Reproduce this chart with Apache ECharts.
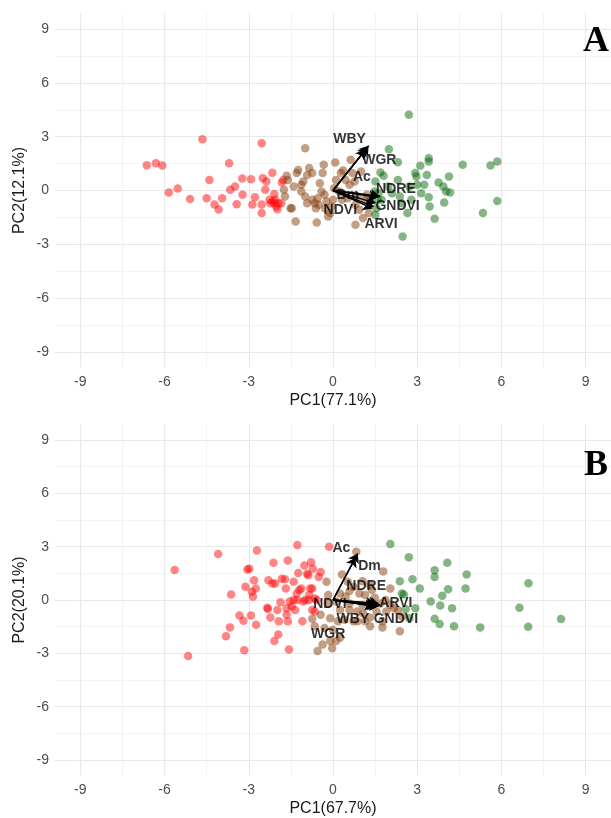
<!DOCTYPE html>
<html>
<head>
<meta charset="utf-8">
<script src="https://cdn.jsdelivr.net/npm/echarts@6/dist/echarts.min.js"></script>
<style>
  html, body { margin: 0; padding: 0; background: #fff; }
  #chart { width: 611px; height: 818px; }
</style>
</head>
<body>
<div id="chart"></div>
<script>
// tick labels and gridlines
var majorTicks = [-9, -6, -3, 0, 3, 6, 9];
var minorTicks = [-7.5, -4.5, -1.5, 1.5, 4.5, 7.5];

// panel A scores (PC1, PC2)
var redA = [[-6.63,1.41],[-6.31,1.52],[-6.08,1.39],[-5.85,-0.11],[-5.53,0.11],[-5.09,-0.48],[-4.65,2.86],[-4.5,-0.43],
  [-4.4,0.58],[-4.22,-0.78],[-4.07,-1.06],[-3.95,-0.43],[-3.7,1.52],[-3.66,0.04],[-3.49,0.22],[-3.43,-0.76],[-3.22,-0.24],
  [-3.23,0.67],[-2.92,0.63],[-2.87,-0.78],[-2.78,-0.37],[-2.54,2.64],[-2.54,-0.78],[-2.54,-1.26],[-2.5,0.69],[-2.41,0.04],
  [-2.37,0.5],[-2.26,-0.52],[-2.16,0.99],[-2.09,-0.19],[-2.06,-0.52],[-2.09,-0.71],[-2.02,-0.89],[-1.98,-1.04],[-1.95,-0.71],
  [-1.84,-0.71],[-1.82,0.45],[-1.77,0.59],[-2.15,-0.61],[-2.23,-0.71]];
var brownA = [[-0.99,2.36],[-1.65,0.82],[-1.61,0.59],[-1.75,0.04],[-1.71,-0.33],[-1.51,-0.99],[-1.33,-1.73],[-1.29,0.97],
  [-1.24,1.15],[-1.13,0.32],[-1.06,0.5],[-0.99,-0.33],[-0.92,0.87],[-0.85,1.25],[-0.74,0.97],[-0.58,-1.78],[-0.65,-0.71],
  [-0.61,-0.99],[-0.55,-0.43],[-0.47,0.41],[-0.41,-0.06],[-0.37,0.97],[-0.33,1.43],[-0.3,-0.24],[-0.23,-0.61],[-0.17,-1.45],
  [-0.1,-1.26],[-0.06,-0.89],[0,-0.52],[0.08,1.56],[0.04,0.13],[0.11,0.59],[0.22,-0.06],[0.28,0.97],[0.32,-0.52],[0.36,1.12],
  [0.45,0.59],[0.52,-0.43],[0.59,0.32],[0.63,1.71],[0.69,0.97],[0.77,0.5],[0.8,-0.8],[0.87,-0.33],[0.94,-1.08],[1.0,1.06],
  [1.07,-1.54],[0.8,-1.91],[1.14,-0.52],[1.21,-0.24],[1.28,-1.26],[-0.92,-0.71],[-0.74,-0.52],[-0.51,-0.8],[-0.28,-0.99],
  [-1.4,0.22],[-1.13,-0.06],[-1.47,-0.99]];
var greenA = [[2.7,4.22],[1.99,2.3],[2.31,1.58],[1.69,1.0],[1.8,0.82],[2.31,0.59],[1.51,0.5],[1.49,-0.06],[1.62,-0.15],
  [1.6,-0.52],[1.73,-0.52],[1.55,-0.99],[1.51,-1.36],[1.97,0.22],[2.1,-0.15],[2.38,-0.33],[2.45,-0.71],[2.65,-1.26],
  [2.48,-2.57],[2.72,0.22],[2.93,0.97],[2.97,0.78],[3.0,0.32],[3.11,1.38],[3.14,-0.15],[3.25,0.32],[3.34,0.87],[3.41,1.8],
  [3.41,1.62],[3.41,-0.37],[3.44,-0.89],[3.62,-1.58],[3.76,0.45],[3.93,0.22],[3.96,-0.67],[4.03,-0.06],[4.17,-0.11],
  [4.13,0.78],[4.62,1.43],[5.34,-1.26],[5.61,1.39],[5.85,1.62],[5.85,-0.58],[2.79,-0.52]];

// panel B scores (PC1, PC2)
var redB = [[-5.64,1.69],[-5.16,-3.15],[-4.09,2.59],[-3.81,-2.04],[-3.63,0.31],[-3.67,-1.54],[-3.33,-0.87],[-3.19,-1.17],
  [-3.16,-2.83],[-3.12,0.74],[-3.05,1.72],[-2.98,1.76],[-2.92,-0.87],[-2.89,0.46],[-2.85,0.19],[-2.81,1.11],[-2.75,0.65],
  [-2.71,2.78],[-2.74,-1.39],[-2.34,-0.43],[-2.32,-0.5],[-2.3,1.11],[-2.23,-0.98],[-2.16,0.93],[-2.12,2.09],[-2.09,-2.31],
  [-2.06,0.93],[-1.98,-0.56],[-1.95,-1.94],[-1.93,-1.2],[-1.87,-0.13],[-1.82,1.2],[-1.71,1.17],[-1.68,0.65],[-1.65,-0.46],
  [-1.61,2.22],[-1.61,-1.2],[-1.57,-2.78],[-1.65,-0.83],[-1.54,-0.09],[-1.47,-0.37],[-1.4,1.02],[-1.35,-0.56],[-1.29,0.37],
  [-1.24,1.52],[-1.2,0.56],[-1.13,0.65],[-1.09,-1.2],[-1.06,-0.09],[-1.02,1.94],[-0.99,0.0],[-0.92,1.48],[-0.88,1.39],
  [-0.85,0.0],[-0.78,2.13],[-0.74,0.65],[-0.74,-0.56],[-0.65,-0.65],[-0.58,0.0],[-0.51,1.3],[-0.44,1.57],[-0.14,3.0],
  [-1.27,3.09],[-1.27,0.0],[-0.72,1.76],[-1.4,0.0],[-0.85,0.28],[-0.65,0.09],[-0.81,0.65]];
var brownB = [[0.83,2.72],[1.79,1.61],[0.32,1.43],[1.05,1.06],[-0.23,1.02],[1.32,0.83],[0.73,0.74],[2.04,0.65],[-0.17,0.28],
  [0.25,0.37],[0.45,0.19],[0.59,0.5],[0.94,0.37],[1.14,0.28],[1.35,-0.09],[1.49,0.13],[1.69,-0.19],[1.87,0.0],[2.04,-0.28],
  [2.17,-0.46],[0.25,-0.56],[0.59,-0.56],[0.87,-0.65],[1.07,-0.74],[1.32,-0.98],[1.55,-0.65],[2.31,-0.56],[-0.74,-1.06],
  [-0.44,-0.83],[-0.1,-1.02],[0.18,-1.2],[0.41,-1.11],[0.73,-1.2],[1.32,-1.48],[1.76,-1.54],[2.38,-1.76],[-0.65,-1.48],
  [-0.3,-1.57],[0.0,-1.67],[0.25,-2.13],[-0.37,-2.5],[-0.03,-2.72],[-0.55,-2.87],[0.11,-2.31],[1.9,-0.65],[2.45,-0.93],
  [1.05,-0.28],[1.38,0.56],[0.52,1.02],[1.76,-1.2],[0.87,-1.2],[1.14,-1.2],[-0.19,-0.19],[0.11,-0.09],[0.59,-0.19],[-0.1,-2.31]];
var greenB = [[2.04,3.15],[2.7,2.41],[2.83,1.17],[3.09,0.65],[2.38,1.06],[2.45,0.37],[2.52,0.31],[3.48,-0.09],[3.62,1.67],
  [3.62,1.3],[3.89,0.24],[3.82,-0.31],[3.62,-1.06],[3.8,-1.35],[4.07,2.09],[4.1,0.61],[4.24,-0.46],[4.31,-1.48],[4.72,0.65],
  [4.76,1.44],[5.24,-1.54],[6.64,-0.43],[6.96,0.94],[6.95,-1.5],[8.12,-1.07],[2.59,-0.5],[2.93,-0.46],[2.72,-1.02]];

// variable loadings (arrow tips) and label positions
var varsA = ['WBY', 'WGR', 'Ac', 'Dm', 'NDRE', 'GNDVI', 'NDVI', 'ARVI'];
var tipsA = [[1.27,2.5],[1.22,2.4],[1.15,2.26],[1.6,-0.38],[1.67,-0.32],[1.45,-0.9],[1.52,-0.7],[1.4,-1.0]];
var labsA = [[0.59,2.85],[1.65,1.68],[1.03,0.74],[0.53,-0.26],[2.24,0.06],[2.3,-0.88],[0.26,-1.12],[1.71,-1.86]];

var varsB = ['Ac', 'Dm', 'NDRE', 'ARVI', 'GNDVI', 'WBY', 'NDVI', 'WGR'];
var tipsB = [[0.88,2.62],[0.8,2.38],[1.62,-0.2],[1.68,-0.28],[1.62,-0.36],[1.55,-0.32],[1.5,-0.22],[1.45,-0.35]];
var labsB = [[0.3,2.9],[1.3,1.88],[1.18,0.76],[2.24,-0.17],[2.24,-1.06],[0.71,-1.1],[-0.11,-0.21],[-0.17,-1.94]];

var RED = 'rgba(255,0,0,0.6)';
var BROWN = 'rgba(139,69,19,0.65)';
var GREEN = 'rgba(0,100,0,0.6)';

var chart = echarts.init(document.getElementById('chart'));

function xAxes(grid, title) {
  return [
    {
      type: 'value', gridIndex: grid, min: -9.9, max: 9.9,
      name: title, nameLocation: 'middle', nameGap: 25,
      nameTextStyle: { color: '#1a1a1a', fontSize: 16, fontFamily: 'Liberation Sans' },
      axisLine: { show: false },
      axisTick: { show: false, customValues: majorTicks },
      axisLabel: { customValues: majorTicks, color: '#4d4d4d', fontSize: 14, margin: 7, fontFamily: 'Liberation Sans' },
      splitLine: { show: true, lineStyle: { color: '#e8e8e8', width: 1.2 } }
    },
    {
      type: 'value', gridIndex: grid, min: -9.9, max: 9.9,
      axisLine: { show: false },
      axisTick: { show: false, customValues: minorTicks },
      axisLabel: { show: false, customValues: minorTicks },
      splitLine: { show: true, lineStyle: { color: '#f0f0f0', width: 0.8 } }
    }
  ];
}

function yAxes(grid, title) {
  return [
    {
      type: 'value', gridIndex: grid, min: -9.9, max: 9.9,
      name: title, nameLocation: 'middle', nameGap: 27, nameRotate: 90, nameMoveOverlap: false,
      nameTextStyle: { color: '#1a1a1a', fontSize: 16, fontFamily: 'Liberation Sans' },
      axisLine: { show: false },
      axisTick: { show: false, customValues: majorTicks },
      axisLabel: { customValues: majorTicks, color: '#4d4d4d', fontSize: 14, margin: 6, fontFamily: 'Liberation Sans' },
      splitLine: { show: true, lineStyle: { color: '#e8e8e8', width: 1.2 } }
    },
    {
      type: 'value', gridIndex: grid, min: -9.9, max: 9.9,
      axisLine: { show: false },
      axisTick: { show: false, customValues: minorTicks },
      axisLabel: { show: false, customValues: minorTicks },
      splitLine: { show: true, lineStyle: { color: '#f0f0f0', width: 0.8 } }
    }
  ];
}

function pts(data, color, ax) {
  return {
    type: 'scatter', xAxisIndex: ax, yAxisIndex: ax, data: data,
    symbolSize: 8.5, itemStyle: { color: color }, silent: true
  };
}

function arrows(tips, ax) {
  return {
    type: 'lines', coordinateSystem: 'cartesian2d', xAxisIndex: ax, yAxisIndex: ax,
    symbol: ['none', 'arrow'], symbolSize: [0, 9], z: 5,
    lineStyle: { color: '#000', width: 1.4, opacity: 1, curveness: 0 },
    data: tips.map(function (t) { return { coords: [[0, 0], t] }; })
  };
}

function labels(names, pos, ax) {
  return {
    type: 'scatter', xAxisIndex: ax, yAxisIndex: ax, symbolSize: 1, z: 6,
    itemStyle: { color: 'transparent' },
    label: {
      show: true, position: 'inside', formatter: '{b}', color: '#000',
      textBorderWidth: 0, fontSize: 14, fontWeight: 'bold', fontFamily: 'Liberation Sans'
    },
    labelLayout: { hideOverlap: false },
    data: names.map(function (n, i) { return { name: n, value: pos[i] }; })
  };
}

var option = {
  backgroundColor: '#fff',
  animation: false,
  grid: [
    { left: 55, top: 13, width: 562, height: 355 },
    { left: 55, top: 424, width: 562, height: 355 }
  ],
  xAxis: xAxes(0, 'PC1(77.1%)').concat(xAxes(1, 'PC1(67.7%)')),
  yAxis: yAxes(0, 'PC2(12.1%)').concat(yAxes(1, 'PC2(20.1%)')),
  graphic: [
    { type: 'text', left: 583, top: 24, z: 10, style: { text: 'A', font: 'bold 36px "Liberation Serif"', fill: '#000' } },
    { type: 'text', left: 584, top: 448, z: 10, style: { text: 'B', font: 'bold 36px "Liberation Serif"', fill: '#000' } }
  ],
  series: [
    pts(redA, RED, 0), pts(brownA, BROWN, 0), pts(greenA, GREEN, 0),
    arrows(tipsA, 0), labels(varsA, labsA, 0),
    pts(redB, RED, 2), pts(brownB, BROWN, 2), pts(greenB, GREEN, 2),
    arrows(tipsB, 2), labels(varsB, labsB, 2)
  ]
};

chart.setOption(option);
</script>
</body>
</html>
